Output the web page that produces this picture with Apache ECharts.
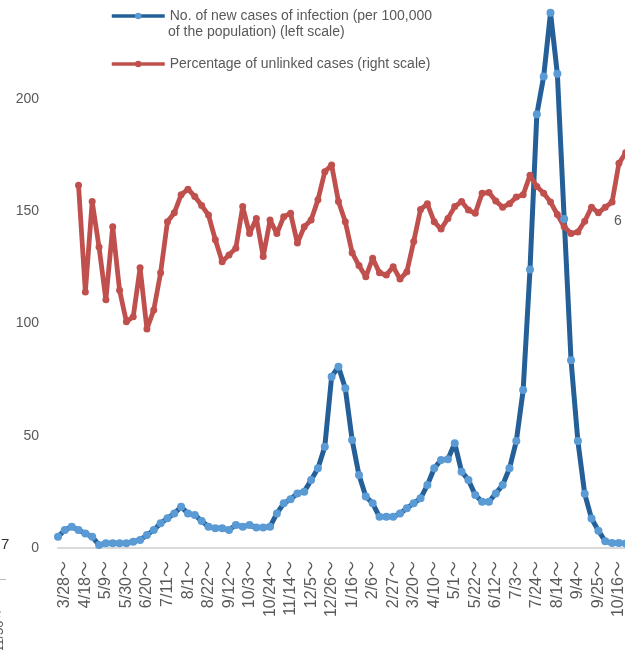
<!DOCTYPE html>
<html lang="en">
<head>
    <meta charset="UTF-8">
    <title>index</title>
    <script src="https://cdn.jsdelivr.net/npm/echarts@6/dist/echarts.min.js"></script>
    <style>
        html, body { margin: 0; padding: 0; background: #fff; }
        #main { width: 625px; height: 650px; }
    </style>
</head>
<body>
<div id="main"></div>
<script>
    // weekly categories, 2020/3/28 onward
    var weeks = ['3/28','4/4','4/11','4/18','4/25','5/2','5/9','5/16','5/23','5/30',
        '6/6','6/13','6/20','6/27','7/4','7/11','7/18','7/25','8/1','8/8',
        '8/15','8/22','8/29','9/5','9/12','9/19','9/26','10/3','10/10','10/17',
        '10/24','10/31','11/7','11/14','11/21','11/28','12/5','12/12','12/19','12/26',
        '1/2','1/9','1/16','1/23','1/30','2/6','2/13','2/20','2/27','3/6',
        '3/13','3/20','3/27','4/3','4/10','4/17','4/24','5/1','5/8','5/15',
        '5/22','5/29','6/5','6/12','6/19','6/26','7/3','7/10','7/17','7/24',
        '7/31','8/7','8/14','8/21','8/28','9/4','9/11','9/18','9/25','10/2',
        '10/9','10/16','10/23','10/30','11/6'];

    // new cases per 100,000 (left scale)
    var newCases = [5.0, 8.0, 9.5, 8.0, 6.5, 5.0, 1.3, 2.1, 2.1, 2.1,
        2.1, 2.8, 3.6, 5.8, 8.0, 11.0, 13.2, 15.4, 18.4, 15.4,
        14.7, 12.0, 9.5, 8.8, 8.8, 8.0, 10.2, 9.5, 10.2, 9.1,
        9.1, 9.5, 15.4, 19.9, 21.7, 24.3, 25.1, 30.3, 35.5, 45.1,
        76.3, 80.7, 71.1, 48.1, 32.5, 22.9, 19.9, 13.9, 13.9, 13.9,
        15.4, 17.7, 19.9, 22.1, 28.0, 35.5, 39.2, 39.5, 46.6, 34.0,
        30.3, 23.6, 20.6, 20.6, 24.3, 28.0, 35.5, 47.6, 70.3, 124.0,
        193.1, 209.9, 238.3, 211.1, 146.5, 83.6, 47.6, 24.1, 13.1, 7.7,
        3.0, 2.2, 2.2, 2.0];

    // percentage of unlinked cases (right scale)
    var unlinked = [null, null, null, 64.6, 45.6, 61.7, 53.6, 44.2, 57.2, 45.9,
        40.3, 41.2, 49.9, 39.0, 42.4, 49.0, 58.1, 59.7, 62.9, 63.9,
        62.6, 61.0, 59.3, 54.9, 51.0, 52.2, 53.4, 60.8, 56.0, 58.7,
        51.9, 58.4, 56.0, 59.0, 59.6, 54.3, 57.2, 58.4, 62.0, 67.0,
        68.2, 61.7, 58.1, 52.6, 50.3, 48.3, 51.6, 49.0, 48.6, 50.1,
        47.9, 49.2, 54.6, 60.3, 61.3, 58.1, 56.8, 58.7, 60.8, 61.7,
        60.2, 59.6, 63.2, 63.3, 61.8, 60.7, 61.3, 62.5, 62.9, 66.4,
        64.4, 63.2, 61.6, 59.4, 57.2, 56.0, 56.3, 58.2, 60.7, 59.7,
        60.7, 61.6, 68.5, 70.4];

    var leftTicks = [0, 250, 50];
    var rightTicks = [0, 100, 20];

    var nameCases = 'No. of new cases of infection (per 100,000\nof the population) (left scale)';
    var nameUnlinked = 'Percentage of unlinked cases (right scale)';

    var textGray = '#595959';
    var fontFam = "'Liberation Sans', Arial, 'Noto Sans CJK JP', sans-serif";
    var myChart = echarts.init(document.getElementById('main'));

    var option = {
        animation: false,
        textStyle: { fontFamily: fontFam },
        legend: [{
            left: 110,
            top: 7,
            padding: 0,
            itemWidth: 53,
            itemHeight: 8,
            lineStyle: { width: 3.5 },
            textStyle: { color: textGray, fontSize: 14, lineHeight: 18 },
            // second line of this name is drawn under it as a graphic text
            formatter: function (name) { return name.split('\n')[0]; },
            data: [nameCases]
        }, {
            left: 110,
            top: 55,
            padding: 0,
            itemWidth: 53,
            itemHeight: 8,
            lineStyle: { width: 3.5 },
            textStyle: { color: textGray, fontSize: 14, lineHeight: 18 },
            data: [nameUnlinked]
        }],
        grid: {
            left: 58,
            right: -7.6,
            top: -13.5,
            bottom: 102,
            containLabel: false,
            outerBoundsMode: 'none'
        },
        xAxis: {
            type: 'category',
            boundaryGap: false,
            data: weeks.map(function (w) { return w + '～'; }),
            axisLine: { show: true, lineStyle: { color: '#d9d9d9', width: 2 } },
            axisTick: { show: false },
            axisLabel: {
                interval: 2,
                rotate: 90,
                margin: 13,
                color: textGray,
                fontSize: 16,
                verticalAlign: 'top',
                lineHeight: 14
            }
        },
        yAxis: [{
            type: 'value',
            min: leftTicks[0],
            max: leftTicks[1],
            interval: leftTicks[2],
            axisLine: { show: false },
            axisTick: { show: false },
            splitLine: { show: false },
            axisLabel: { color: textGray, fontSize: 14, margin: 19 }
        }, {
            type: 'value',
            min: rightTicks[0],
            max: rightTicks[1],
            interval: rightTicks[2],
            axisLine: { show: false },
            axisTick: { show: false },
            splitLine: { show: false },
            axisLabel: { show: false }
        }],
        series: [{
            name: nameCases,
            type: 'line',
            yAxisIndex: 0,
            data: newCases,
            symbol: 'circle',
            symbolSize: 8,
            showAllSymbol: true,
            lineStyle: { color: '#245f97', width: 5 },
            itemStyle: { color: '#5b9bd5' }
        }, {
            name: nameUnlinked,
            type: 'line',
            yAxisIndex: 1,
            data: unlinked,
            symbol: 'circle',
            symbolSize: 7,
            showAllSymbol: true,
            lineStyle: { color: '#c0504d', width: 4.8 },
            itemStyle: { color: '#c0504d' }
        }],
        graphic: [
            { type: 'text', left: 168, top: 25, style: { text: nameCases.split('\n')[1], fill: textGray, font: "14px 'Liberation Sans'" } },
            { type: 'text', left: 614, top: 214, style: { text: '6', fill: textGray, font: "14px 'Liberation Sans'" } },
            { type: 'text', left: 1, top: 537, style: { text: '7', fill: '#333', font: "15px 'Liberation Sans'" } },
            { type: 'rect', left: 0, top: 579, shape: { width: 6, height: 1 }, style: { fill: '#bbb' } },
            { type: 'text', x: -7, y: 652, rotation: Math.PI / 2,
              style: { text: '11/30～', fill: textGray, font: "13px 'Liberation Sans'" } }
        ]
    };
    myChart.setOption(option);

    window.addEventListener('resize', function () { myChart.resize(); });
</script>
</body>
</html>
